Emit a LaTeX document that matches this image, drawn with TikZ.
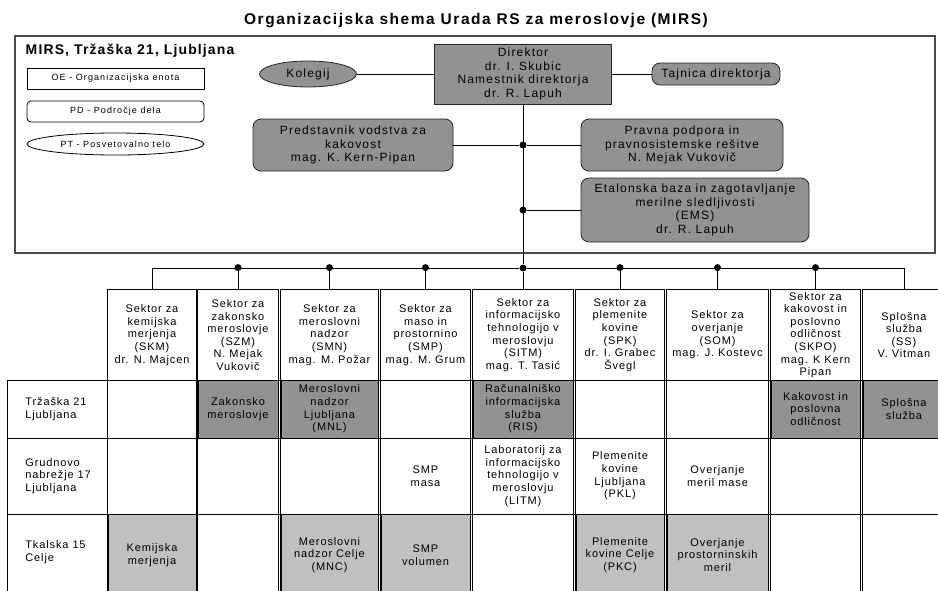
\documentclass[tikz,border=0pt]{standalone}
\usepackage{fontspec}
\setmainfont{Liberation Sans}[LetterSpace=6]
\usetikzlibrary{shapes.geometric}

\definecolor{unitgray}{RGB}{146,146,146}
\definecolor{celjegray}{RGB}{192,192,192}

\newcommand{\unitfont}{\fontsize{12}{13.6}\selectfont\addfontfeatures{LetterSpace=10}}
\newcommand{\cellfont}{\fontsize{11}{12.6}\selectfont\addfontfeatures{LetterSpace=8}}
\newcommand{\legendfont}{\fontsize{9}{10}\selectfont\addfontfeatures{LetterSpace=12}}

\tikzset{
  unit/.style={draw=black!85,fill=unitgray,align=center,inner sep=2pt,font=\unitfont},
  field/.style={unit,rounded corners=8pt},
  council/.style={unit,ellipse},
  sector/.style={align=center,inner sep=1pt,minimum height=90pt,font=\cellfont},
  cell/.style={align=center,inner sep=1pt,font=\cellfont},
  darkcell/.style={cell,draw,fill=unitgray,minimum height=58pt},
  lightcell/.style={cell,draw,fill=celjegray,minimum height=82pt},
  place/.style={cell,align=left,anchor=west},
  oebox/.style={draw,minimum width=177pt,minimum height=21pt,font=\legendfont},
  pdbox/.style={oebox,rounded corners=4pt},
  ptbox/.style={oebox,ellipse,minimum height=22pt},
  dot/.style={circle,fill,inner sep=0pt,minimum size=7pt},
}

\begin{document}
\begin{tikzpicture}[x=1pt,y=-1pt,line width=0.8pt]
  \useasboundingbox (0,0) rectangle (938,590);
  \node[font=\bfseries\fontsize{15.5}{18}\selectfont\addfontfeatures{LetterSpace=10}] (title) at (476,21) {Organizacijska shema Urada RS za meroslovje (MIRS)};
  \draw[draw=black!70,line width=1.2pt] (15,36) rectangle (935,253);
  \node[anchor=west,font=\bfseries\fontsize{14}{16}\selectfont\addfontfeatures{LetterSpace=8}] (seat) at (22,51) {MIRS, Tržaška 21, Ljubljana};
  % legenda
  \node[oebox] (OE) at (115.5,78.5) {OE - Organizacijska enota};
  \node[pdbox] (PD) at (115.5,111.5) {PD - Področje dela};
  \node[ptbox] (PT) at (115.5,144) {PT - Posvetovalno telo};
  % vodstvo
  \node[unit,minimum width=177pt,minimum height=60pt] (Dir) at (523,74) {Direktor\\dr. I. Skubic\\Namestnik direktorja\\dr. R. Lapuh};
  \node[council,minimum width=97pt,minimum height=26pt] (Kol) at (308,74) {Kolegij};
  \node[field,minimum width=128pt,minimum height=22pt] (Taj) at (716,74) {Tajnica direktorja};
  \node[field,minimum width=200pt,minimum height=52pt] (Pred) at (353,145) {Predstavnik vodstva za\\kakovost\\mag. K. Kern-Pipan};
  \node[field,minimum width=202pt,minimum height=52pt] (Prav) at (682,145) {Pravna podpora in\\pravnosistemske rešitve\\N. Mejak Vukovič};
  \node[field,minimum width=228pt,minimum height=64pt] (EMS) at (695,210) {Etalonska baza in zagotavljanje\\merilne sledljivosti\\(EMS)\\dr. R. Lapuh};
  \node[dot] (q1) at (523,145) {};
  \node[dot] (q2) at (523,210) {};
  \node[dot] (q3) at (523,268) {};
  \draw (Kol) -- (Dir);
  \draw (Dir) -- (Taj);
  \draw (Dir) -- (q3);
  \draw (Pred) -- (q1) -- (Prav);
  \draw (q2) -- (EMS);
  % sektorji
  \node[sector,minimum width=88pt] (SKM) at (152,335) {Sektor za\\kemijska\\merjenja\\(SKM)\\dr. N. Majcen};
  \node[sector,minimum width=80pt] (SZM) at (238,335) {Sektor za\\zakonsko\\meroslovje\\(SZM)\\N. Mejak\\Vukovič};
  \node[sector,minimum width=97pt] (SMN) at (329.5,335) {Sektor za\\meroslovni\\nadzor\\(SMN)\\mag. M. Požar};
  \node[sector,minimum width=89pt] (SMP) at (425.5,335) {Sektor za\\maso in\\prostornino\\(SMP)\\mag. M. Grum};
  \node[sector,minimum width=100pt] (SITM) at (523,335) {Sektor za\\informacijsko\\tehnologijo v\\meroslovju\\(SITM)\\mag. T. Tasić};
  \node[sector,minimum width=88pt] (SPK) at (620,335) {Sektor za\\plemenite\\kovine\\(SPK)\\dr. I. Grabec\\Švegl};
  \node[sector,minimum width=101pt] (SOM) at (717.5,335) {Sektor za\\overjanje\\(SOM)\\mag. J. Kostevc};
  \node[sector,minimum width=89pt] (SKPO) at (815.5,335) {Sektor za\\kakovost in\\poslovno\\odličnost\\(SKPO)\\mag. K Kern\\Pipan};
  \node[sector,minimum width=82pt] (SS) at (904,335) {Splošna\\služba\\(SS)\\V. Vitman};
  \coordinate (floor) at (0,600);
  \foreach \s in {SKM,SZM,SMN,SMP,SITM,SPK,SOM,SKPO,SS}
    \draw (\s.north west) rectangle (\s.south east |- floor);
  \draw (SKM.north) |- (q3) -| (SS.north);
  \draw (q3) -- (SITM);
  \foreach \s in {SZM,SMN,SMP,SPK,SOM,SKPO}
    \draw (\s.north) -- ++(0,-22) node[dot] (b\s) {};
  % lokacije
  \foreach \y in {380,438,514}
    \draw (7,\y) -- (945,\y);
  \draw (7,380) -- (7,600);
  \node[place] (TRZ) at (24,409) {Tržaška 21\\Ljubljana};
  \node[place] (GRU) at (24,476) {Grudnovo\\nabrežje 17\\Ljubljana};
  \node[place] (TKA) at (24,552) {Tkalska 15\\Celje};
  % podrocja dela
  \node[darkcell,minimum width=80pt] (ZM) at (238,409) {Zakonsko\\meroslovje};
  \node[darkcell,minimum width=97pt] (MNL) at (329.5,409) {Meroslovni\\nadzor\\Ljubljana\\(MNL)};
  \node[darkcell,minimum width=100pt] (RIS) at (523,409) {Računalniško\\informacijska\\služba\\(RIS)};
  \node[darkcell,minimum width=89pt] (KPO) at (815.5,409) {Kakovost in\\poslovna\\odličnost};
  \node[darkcell,minimum width=82pt] (SSL) at (904,409) {Splošna\\služba};
  \node[cell] (SMPm) at (425.5,476) {SMP\\masa};
  \node[cell] (LITM) at (523,476) {Laboratorij za\\informacijsko\\tehnologijo v\\meroslovju\\(LITM)};
  \node[cell] (PKL) at (620,476) {Plemenite\\kovine\\Ljubljana\\(PKL)};
  \node[cell] (OMM) at (717.5,476) {Overjanje\\meril mase};
  \node[lightcell,minimum width=88pt] (KM) at (152,555) {Kemijska\\merjenja};
  \node[lightcell,minimum width=97pt] (MNC) at (329.5,555) {Meroslovni\\nadzor Celje\\(MNC)};
  \node[lightcell,minimum width=89pt] (SMPv) at (425.5,555) {SMP\\volumen};
  \node[lightcell,minimum width=88pt] (PKC) at (620,555) {Plemenite\\kovine Celje\\(PKC)};
  \node[lightcell,minimum width=101pt] (OPM) at (717.5,555) {Overjanje\\prostorninskih\\meril};
\end{tikzpicture}
\end{document}
